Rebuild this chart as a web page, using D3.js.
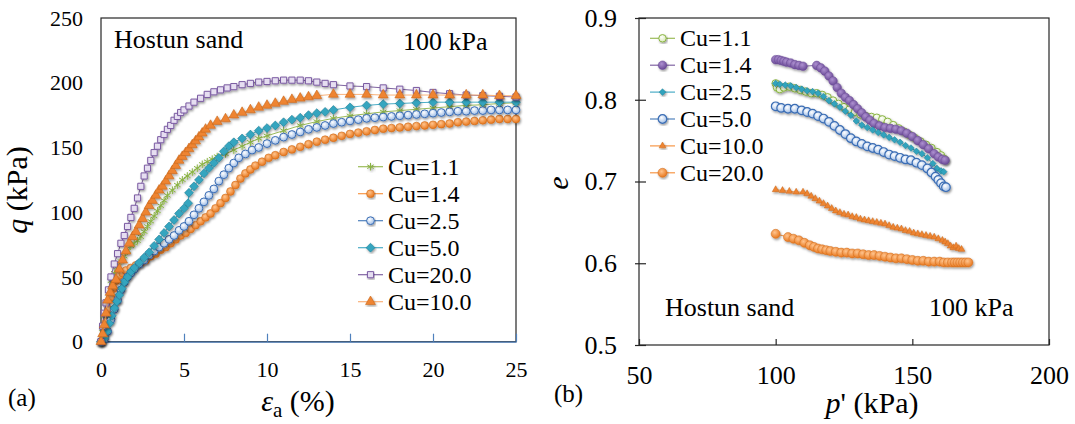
<!DOCTYPE html>
<html>
<head>
<meta charset="utf-8">
<script src="https://cdn.jsdelivr.net/npm/d3@7"></script>
<style>
body { margin: 0; background: #fff; }
</style>
</head>
<body>
<svg id="chart" width="1075" height="424"></svg>
<script>
// (a) deviator stress: [eps_a (%), q (kPa)]
const aCu11 = [[0,0],[0.1,10],[0.2,20],[0.3,30],[0.45,40],[0.6,47],[0.8,53],[1.0,58],[1.2,62],[1.4,66],[1.6,70],[1.8,74],[2.0,76],[2.2,78],[2.4,81],[2.6,85],[2.8,89],[3.0,93],[3.2,97],[3.4,101],[3.6,105],[3.8,109],[4.0,113],[4.3,117],[4.6,121],[4.9,125],[5.2,128],[5.5,131],[5.8,134],[6.1,137],[6.4,139],[6.7,141],[7.0,143],[7.5,145],[8.0,148],[8.5,151],[9.0,154],[9.5,157],[10,159],[11,163],[12,167],[13,170],[14,172.5],[15,174.5],[16,176],[17,177.5],[18,178.5],[19,179.5],[20,180.5],[21,181.5],[22,182.5],[23,183],[24,184],[25,184.5]];
const aCu14 = [[0,0],[0.15,5],[0.3,15],[0.45,25],[0.6,34],[0.75,41],[0.9,47],[1.1,51],[1.3,53],[1.5,55],[1.8,57],[2.1,59],[2.4,61],[2.7,63],[3.0,66],[3.3,68],[3.6,71],[3.9,73],[4.2,76],[4.5,79],[4.8,82],[5.1,84],[5.4,87],[5.7,90],[6.0,93],[6.3,96],[6.6,99],[6.9,103],[7.2,107],[7.5,111],[7.8,116],[8.1,121],[8.4,126],[8.7,130],[9.0,133],[9.3,136],[9.7,139],[10.1,142],[10.5,144],[11,146.5],[11.5,148.5],[12,150.5],[12.5,152.5],[13,154.5],[13.5,156],[14,157.5],[14.5,159],[15,160.5],[15.5,161.5],[16,162.5],[16.5,163.5],[17,164.5],[17.5,165],[18,165.5],[18.5,166],[19,166.5],[19.5,167],[20,167.5],[20.5,168],[21,168.5],[21.5,169.5],[22,170],[22.5,170.5],[23,171],[23.5,171.5],[24,172],[24.5,172],[25,172]];
const aCu25 = [[0,0],[0.2,2],[0.4,8],[0.6,17],[0.8,25],[1.0,32],[1.2,40],[1.4,46],[1.6,50],[1.8,53],[2.0,56],[2.3,60],[2.6,63],[2.9,67],[3.2,70],[3.5,73],[3.8,76],[4.1,79],[4.4,82],[4.7,86],[5.0,89],[5.3,93],[5.6,98],[5.9,103],[6.2,108],[6.5,113],[6.8,118],[7.1,124],[7.4,129],[7.7,134],[8.0,138],[8.3,142],[8.7,145],[9.1,148],[9.5,150],[10,153],[10.5,155.5],[11,158],[11.5,160],[12,162],[12.5,164],[13,165.5],[13.5,167],[14,168.5],[14.5,169.5],[15,170.5],[15.5,171.5],[16,172.5],[16.5,173],[17,173.5],[17.5,174],[18,174.5],[18.5,175],[19,175.5],[19.5,176],[20,176.5],[20.5,177],[21,177.5],[21.5,178],[22,178],[22.5,178.5],[23,178.5],[23.5,179],[24,179],[24.5,179],[25,179]];
const aCu50 = [[0,0],[0.2,3],[0.35,8],[0.5,14],[0.65,20],[0.8,26],[0.95,31],[1.1,36],[1.25,41],[1.4,46],[1.6,50],[1.8,54],[2.0,57],[2.3,61],[2.6,65],[2.9,69],[3.2,74],[3.5,79],[3.8,84],[4.1,89],[4.4,94],[4.7,99],[5.0,103],[5.25,107],[5.3,115],[5.6,120],[5.9,125],[6.2,130],[6.5,134],[6.8,138],[7.1,142],[7.4,147],[7.7,151],[8.0,154],[8.5,157],[9.0,160],[9.5,163],[10,165],[10.5,167],[11,169.5],[11.5,171.5],[12,173],[12.5,175],[13,176.5],[13.5,177.5],[14,179],[15,181],[16,182.5],[17,183.5],[18,184],[19,184.5],[20,185],[21,185],[22,185],[23,185],[24,185],[25,185]];
const aCu200 = [[0,0],[0.1,12],[0.2,22],[0.3,30],[0.45,40],[0.6,50],[0.8,60],[1.0,68],[1.2,76],[1.4,82],[1.6,89],[1.8,96],[2.0,103],[2.2,111],[2.4,120],[2.6,128],[2.8,134],[3.0,140],[3.2,146],[3.4,151],[3.6,156],[3.8,160],[4.0,164],[4.2,167],[4.4,171],[4.6,174],[4.8,177],[5.0,179],[5.3,182],[5.6,185],[6.0,188],[6.4,191],[6.8,193],[7.2,194.5],[7.6,196],[8.0,197],[8.5,198.5],[9.0,199.5],[9.5,200.5],[10,201],[10.5,201.5],[11,202],[11.5,202],[12,202],[12.5,201.5],[13,200.5],[13.5,199.5],[14,198.5],[15,197.5],[16,197],[17,196],[18,195],[19,194],[20,192.5],[21,191.5],[22,190.5],[23,190],[24,189.5],[25,189]];
const aCu100 = [[0,0],[0.1,6],[0.2,13],[0.3,22],[0.4,32],[0.55,38],[0.7,43],[0.9,48],[1.1,56],[1.3,63],[1.5,70],[1.7,76],[1.9,81],[2.1,85],[2.3,90],[2.5,95],[2.7,100],[2.9,105],[3.1,109],[3.3,113],[3.5,117],[3.7,120],[3.9,124],[4.1,128],[4.3,132],[4.5,136],[4.7,140],[4.9,143],[5.1,146],[5.3,149],[5.5,152],[5.7,155],[5.9,158],[6.1,161],[6.3,164],[6.6,167],[7.0,170],[7.5,172],[8.0,175],[8.5,177],[9.0,179],[9.5,181],[10,182.5],[10.5,184],[11,185.5],[11.5,187],[12,188],[12.5,189],[13,190],[14,191],[15,191],[16,191],[17,190.5],[18,190.5],[19,190.5],[20,190.5],[21,190.5],[22,190.5],[23,190.5],[24,190],[25,190]];

// (b) void ratio: [p' (kPa), e]
const bCu11 = [[100,0.820],[100.5,0.815],[101.5,0.813],[103,0.815],[105,0.816],[107,0.814],[109,0.812],[111,0.810],[113,0.808],[115,0.808],[117,0.806],[119,0.803],[121,0.799],[123,0.795],[125,0.791],[127,0.788],[129,0.785],[131,0.782],[133,0.780],[135,0.779],[137,0.778],[139,0.776],[141,0.773],[143,0.769],[145,0.765],[147,0.761],[149,0.757],[151,0.753],[153,0.749],[155,0.745],[157,0.741],[159,0.736],[160.5,0.732],[161.5,0.728],[162,0.726]];
const bCu14 = [[100,0.849],[101,0.849],[102,0.848],[103,0.847],[104,0.846],[105.5,0.845],[107,0.843],[108.5,0.842],[110,0.841],[115,0.842],[116.5,0.839],[118,0.835],[119.5,0.829],[121,0.823],[122.5,0.815],[124,0.808],[125.5,0.803],[127,0.799],[128.5,0.794],[130,0.789],[131.5,0.784],[133,0.779],[134.5,0.775],[136,0.771],[138,0.768],[140,0.766],[142,0.765],[144,0.764],[146,0.762],[148,0.759],[150,0.755],[152,0.750],[154,0.745],[156,0.740],[158,0.734],[159.5,0.730],[161,0.727],[162,0.726]];
const bCu25 = [[100,0.820],[101.5,0.819],[103.5,0.818],[105.5,0.817],[107.5,0.815],[109.5,0.813],[111.5,0.811],[113.5,0.810],[115.5,0.808],[117.5,0.804],[119.5,0.799],[121.5,0.795],[123.5,0.791],[125.5,0.786],[127.5,0.781],[129.5,0.774],[131.5,0.769],[133.5,0.766],[135.5,0.763],[137.5,0.760],[139.5,0.757],[141.5,0.754],[143.5,0.751],[145.5,0.748],[147.5,0.744],[149.5,0.741],[151.5,0.737],[153.5,0.734],[155.5,0.729],[157.5,0.722],[159,0.716],[160.5,0.713],[161.5,0.712]];
const bCu50 = [[100,0.792],[102,0.790],[104.5,0.789],[107,0.789],[109.5,0.787],[111.5,0.785],[113.5,0.783],[115.5,0.780],[117.5,0.777],[119.5,0.773],[121.5,0.768],[123.5,0.763],[125.5,0.758],[127.5,0.753],[129.5,0.749],[131.5,0.746],[133.5,0.743],[135.5,0.741],[137.5,0.739],[139.5,0.736],[141.5,0.733],[143.5,0.731],[145.5,0.729],[147.5,0.727],[149.5,0.726],[151.5,0.723],[153.5,0.720],[155.5,0.716],[157,0.711],[158.5,0.706],[159.5,0.702],[160.5,0.698],[161.5,0.694],[162.3,0.693]];
const bCu100 = [[100,0.690],[102.5,0.689],[105,0.688],[107.5,0.687],[110,0.687],[111.5,0.685],[113,0.682],[114.5,0.679],[116,0.676],[117.5,0.673],[119,0.670],[120.5,0.667],[122,0.664],[123.5,0.662],[125,0.660],[126.5,0.659],[128,0.657],[129.5,0.656],[131,0.654],[132.5,0.653],[134,0.652],[135.5,0.651],[137,0.650],[138.5,0.649],[140,0.648],[141.5,0.646],[143,0.644],[144.5,0.643],[146,0.642],[147.5,0.640],[149,0.639],[150.5,0.637],[152,0.636],[153.5,0.635],[155,0.634],[156.5,0.633],[158,0.632],[159.5,0.630],[161,0.628],[162,0.626],[163,0.624],[164,0.621],[165,0.619],[166,0.621],[167,0.618],[168,0.617]];
const bCu200 = [[100,0.636],[104.5,0.632],[106.5,0.630],[108.5,0.628],[110.5,0.625],[112.5,0.622],[114,0.620],[115.5,0.618],[117,0.617],[118.5,0.616],[120,0.615],[122,0.614],[124,0.613],[126,0.613],[128,0.612],[130,0.612],[132,0.611],[134,0.610],[136,0.610],[138,0.609],[140,0.608],[142,0.607],[144,0.606],[146,0.606],[148,0.605],[150,0.604],[152,0.603],[154,0.603],[156,0.602],[158,0.602],[160,0.602],[161.5,0.601],[163,0.601],[164.5,0.601],[165.5,0.601],[166.5,0.601],[167.5,0.601],[168.5,0.601],[169.5,0.601],[170.5,0.601]];

const labelsA = ["Cu=1.1", "Cu=1.4", "Cu=2.5", "Cu=5.0", "Cu=20.0", "Cu=10.0"];
const labelsB = ["Cu=1.1", "Cu=1.4", "Cu=2.5", "Cu=5.0", "Cu=10.0", "Cu=20.0"];
const ticksEps = [0, 5, 10, 15, 20, 25];
const ticksQ = [0, 50, 100, 150, 200, 250];
const ticksP = [50, 100, 150, 200];
const ticksE = [0.5, 0.6, 0.7, 0.8, 0.9];

const FONT = "'Liberation Serif', 'Times New Roman', 'DejaVu Serif', serif";

const svg = d3.select("#chart").attr("font-family", FONT);
const defs = svg.append("defs");

// soft shadow under the markers, like the office chart effect
const sh = defs.append("filter").attr("id", "sh")
    .attr("x", "-20%").attr("y", "-20%").attr("width", "140%").attr("height", "140%");
sh.append("feDropShadow").attr("dx", 1).attr("dy", 1.5)
    .attr("stdDeviation", 0.8).attr("flood-color", "#000").attr("flood-opacity", 0.4);

function grad(id, c0, c1) {
    const g = defs.append("radialGradient").attr("id", id)
        .attr("cx", "40%").attr("cy", "35%").attr("r", "65%");
    g.append("stop").attr("offset", "0%").attr("stop-color", c0);
    g.append("stop").attr("offset", "100%").attr("stop-color", c1);
}
grad("gOrange", "#ffc48e", "#e8771c");
grad("gBlue", "#ffffff", "#9fbde6");
grad("gPurple", "#ad90d0", "#6a4a96");
grad("gGreen", "#ffffff", "#d7e9b4");

// series styles, same order as the labels
const stylesA = [
    {data: aCu11, line: "#9bbb59", sym: d3.symbolAsterisk, size: 40, fill: "none", stroke: "#8ab443", sw: 1},
    {data: aCu14, line: "#f79646", sym: d3.symbolCircle, size: 48, fill: "url(#gOrange)", stroke: "#d06d1c", sw: 0.6},
    {data: aCu25, line: "#4f81bd", sym: d3.symbolCircle, size: 48, fill: "url(#gBlue)", stroke: "#3b6db4", sw: 1},
    {data: aCu50, line: "#4bacc6", sym: d3.symbolDiamond2, size: 50, fill: "#35a5bf", stroke: "#1d7e96", sw: 0.6},
    {data: aCu200, line: "#8064a2", sym: d3.symbolSquare, size: 38, fill: "#e6def1", stroke: "#7a5aa2", sw: 1},
    {data: aCu100, line: "#fab27a", sym: d3.symbolTriangle, size: 42, fill: "#ee8430", stroke: "#c9661b", sw: 0.6}
];
const stylesB = [
    {data: bCu11, line: "#9bbb59", sym: d3.symbolCircle, size: 44, fill: "url(#gGreen)", stroke: "#8ab443", sw: 1},
    {data: bCu14, line: "#8064a2", sym: d3.symbolCircle, size: 58, fill: "url(#gPurple)", stroke: "#6a4a96", sw: 0.5},
    {data: bCu25, line: "#4bacc6", sym: d3.symbolDiamond2, size: 28, fill: "#30a3bd", stroke: "#1d7e96", sw: 0.5},
    {data: bCu50, line: "#4f81bd", sym: d3.symbolCircle, size: 58, fill: "url(#gBlue)", stroke: "#3b6db4", sw: 1.2},
    {data: bCu100, line: "#f79646", sym: d3.symbolTriangle, size: 20, fill: "#ee8430", stroke: "#c9661b", sw: 0.5},
    {data: bCu200, line: "#f79646", sym: d3.symbolCircle, size: 64, fill: "url(#gOrange)", stroke: "#d06d1c", sw: 0.5}
];

function drawSeries(g, s, x, y) {
    g.append("path")
        .datum(s.data)
        .attr("fill", "none")
        .attr("stroke", s.line)
        .attr("stroke-width", 1)
        .attr("d", d3.line().x(d => x(d[0])).y(d => y(d[1])));
    g.append("g")
        .attr("filter", "url(#sh)")
        .selectAll("path")
        .data(s.data)
        .enter().append("path")
        .attr("transform", d => `translate(${x(d[0])},${y(d[1])})`)
        .attr("d", d3.symbol(s.sym, s.size)())
        .attr("fill", s.fill)
        .attr("stroke", s.stroke)
        .attr("stroke-width", s.sw);
}

function legend(g, styles, labels, x0, y0, step) {
    styles.forEach((s, i) => {
        const yy = y0 + i * step;
        g.append("line")
            .attr("x1", x0).attr("x2", x0 + 25)
            .attr("y1", yy).attr("y2", yy)
            .attr("stroke", s.line).attr("stroke-width", 1.2);
        g.append("path")
            .attr("transform", `translate(${x0 + 12.5},${yy})`)
            .attr("d", d3.symbol(s.sym, s.size)())
            .attr("fill", s.fill)
            .attr("stroke", s.stroke)
            .attr("stroke-width", s.sw)
            .attr("filter", "url(#sh)");
        g.append("text")
            .attr("x", x0 + 30).attr("y", yy + 8)
            .attr("font-size", 24)
            .attr("font-family", FONT)
            .text(labels[i]);
    });
}

function label(g, x, y, size, txt) {
    return g.append("text").attr("x", x).attr("y", y)
        .attr("font-size", size).attr("font-family", FONT).text(txt);
}

/** chart (a) **/
const xA = d3.scaleLinear().domain([0, 25]).range([101, 516]);
const yA = d3.scaleLinear().domain([0, 250]).range([341.7, 18]);
const gA = svg.append("g");

gA.append("rect")
    .attr("x", 101).attr("y", 18)
    .attr("width", 415).attr("height", 323.7)
    .attr("fill", "none").attr("stroke", "#262626").attr("stroke-width", 1.2);

const axYA = gA.append("g")
    .attr("transform", "translate(101,0)")
    .call(d3.axisLeft(yA).tickValues(ticksQ).tickSize(0).tickPadding(18).tickFormat(d3.format("d")));
axYA.select(".domain").remove();

const axXA = gA.append("g")
    .attr("transform", "translate(0,341.7)")
    .call(d3.axisBottom(xA).tickValues(ticksEps).tickSizeInner(-8).tickSizeOuter(0).tickPadding(20).tickFormat(d3.format("d")));
axXA.select(".domain").attr("stroke", "#4f81bd").attr("stroke-width", 1.3);
axXA.selectAll(".tick line").attr("stroke", "#4f81bd").attr("stroke-width", 1.2);

[axYA, axXA].forEach(a => {
    a.attr("font-family", FONT);
    a.selectAll("text").attr("font-size", 22).attr("fill", "#000").attr("font-family", FONT);
});

stylesA.forEach(s => drawSeries(gA.append("g"), s, xA, yA));
legend(gA, stylesA, labelsA, 358, 166.7, 27);

label(gA, 114, 48, 26, "Hostun sand");
label(gA, 403, 50, 26, "100 kPa");
label(gA, 8, 406, 25, "(a)");

const tA = gA.append("text").attr("x", 298).attr("y", 411)
    .attr("font-size", 30).attr("font-family", FONT).attr("text-anchor", "middle");
tA.append("tspan").attr("font-style", "italic").text("ε");
tA.append("tspan").attr("font-size", 21).attr("dy", 6).text("a");
tA.append("tspan").attr("dy", -6).text(" (%)");

const tQ = gA.append("text")
    .attr("transform", "translate(27,190) rotate(-90)")
    .attr("font-size", 30).attr("font-family", FONT).attr("text-anchor", "middle");
tQ.append("tspan").attr("font-style", "italic").text("q");
tQ.append("tspan").text(" (kPa)");

/** chart (b) **/
const xB = d3.scaleLinear().domain([50, 200]).range([639, 1049]);
const yB = d3.scaleLinear().domain([0.5, 0.9]).range([345, 18]);
const gB = svg.append("g");

gB.append("rect")
    .attr("x", 639).attr("y", 18)
    .attr("width", 410).attr("height", 327)
    .attr("fill", "none").attr("stroke", "#262626").attr("stroke-width", 1.2);

const axYB = gB.append("g")
    .attr("transform", "translate(639,0)")
    .call(d3.axisLeft(yB).tickValues(ticksE).tickSizeInner(4).tickSizeOuter(0).tickPadding(18).tickFormat(d3.format(".1f")));
axYB.select(".domain").remove();
axYB.selectAll(".tick line").attr("x1", 7).attr("x2", -4).attr("stroke", "#262626").attr("stroke-width", 1.2);

const axXB = gB.append("g")
    .attr("transform", "translate(0,345)")
    .call(d3.axisBottom(xB).tickValues(ticksP).tickSizeInner(-6).tickSizeOuter(0).tickPadding(21));
axXB.select(".domain").remove();
axXB.selectAll(".tick line").attr("stroke", "#262626").attr("stroke-width", 1.2);

[axYB, axXB].forEach(a => {
    a.attr("font-family", FONT);
    a.selectAll("text").attr("font-size", 26).attr("fill", "#000").attr("font-family", FONT);
});

stylesB.forEach(s => drawSeries(gB.append("g"), s, xB, yB));
legend(gB, stylesB, labelsB, 650, 38.3, 26.9);

label(gB, 665, 316, 26, "Hostun sand");
label(gB, 929, 316, 26, "100 kPa");
label(gB, 554, 402, 25, "(b)");

const tP = gB.append("text").attr("x", 872).attr("y", 413)
    .attr("font-size", 30).attr("font-family", FONT).attr("text-anchor", "middle");
tP.append("tspan").attr("font-style", "italic").text("p");
tP.append("tspan").text("' (kPa)");

gB.append("text")
    .attr("transform", "translate(568,183) rotate(-90)")
    .attr("font-size", 30).attr("font-family", FONT)
    .attr("text-anchor", "middle").attr("font-style", "italic")
    .text("e");
</script>
</body>
</html>
